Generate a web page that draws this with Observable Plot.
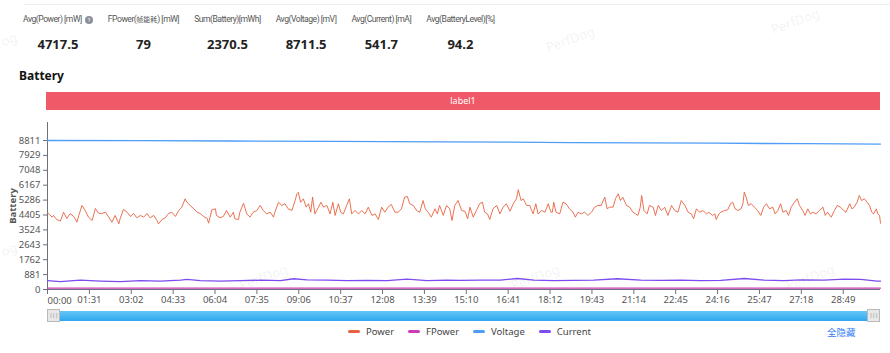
<!DOCTYPE html>
<html><head><meta charset="utf-8">
<script src="https://cdn.jsdelivr.net/npm/d3@7"></script>
<script src="https://cdn.jsdelivr.net/npm/@observablehq/plot@0.6"></script>
<style>
body{margin:0;width:890px;height:353px;overflow:hidden;background:#fff;position:relative;font-family:"Noto Sans","Noto Sans CJK SC",sans-serif;color:#333}
#topline{position:absolute;left:24px;top:4px;width:866px;height:1px;background:#eceef2}
#stats{position:absolute;left:23px;top:12px;display:flex;gap:15px}
.stat{text-align:center}
.stat .lab{font-family:Roboto,"Noto Sans CJK SC",sans-serif;font-size:8.6px;letter-spacing:-0.5px;color:#555;white-space:nowrap;height:14px;line-height:14px}
.stat .lab .cjk{font-family:"Noto Sans CJK SC";font-size:7px;letter-spacing:0}
.stat .val{font-size:13px;font-weight:bold;color:#222;margin-top:10px;line-height:16px}
.help{display:inline-block;width:8px;height:8px;border-radius:50%;background:#8a8f99;color:#fff;font-size:6px;line-height:8px;text-align:center;vertical-align:middle;margin-left:3px;letter-spacing:0}
#title{position:absolute;left:19px;top:67px;font-size:12px;font-weight:bold;color:#111}
#labelbar{position:absolute;left:46px;top:92px;width:834px;height:18px;background:#f05a68;color:#fff;font-size:9px;line-height:18px;text-align:center}
#chart{position:absolute;left:0;top:115px}
#slider{position:absolute;left:47px;top:311px;width:833px;height:10px;background:linear-gradient(#66c6f8,#2ea6ef)}
.handle{position:absolute;top:-2px;width:13px;height:13px;background:#e8e8e8;border:1px solid #b9b9b9;box-sizing:border-box;font-size:6px;line-height:11px;text-align:center;color:#888;letter-spacing:-0.5px}
#legend{position:absolute;left:53px;width:833px;top:325px;display:flex;justify-content:center;gap:14px;font-size:9.5px;color:#444}
.item{display:flex;align-items:center}
.sw{width:12px;height:3px;border-radius:2px;margin-right:6px}
#hideall{position:absolute;left:827px;top:325px;font-size:9.5px;color:#2f7df6}
.wm{position:absolute;color:rgba(120,120,120,0.10);font-size:13px;transform:rotate(-20deg);pointer-events:none}
svg [aria-label="y-axis label"] text{font-weight:bold}
</style></head><body>
<div id="topline"></div>
<div id="stats"></div>
<div id="title">Battery</div>
<div id="labelbar">label1</div>
<div id="chart"></div>
<div id="slider"><div class="handle" style="left:0">|||</div><div class="handle" style="right:0">|||</div></div>
<div id="legend"></div>
<div id="hideall">全隐藏</div>
<script>
const statLabels = ["Avg(Power) [mW]","FPower(帧能耗) [mW]","Sum(Battery)[mWh]","Avg(Voltage) [mV]","Avg(Current) [mA]","Avg(BatteryLevel)[%]"];
const statValues = ["4717.5","79","2370.5","8711.5","541.7","94.2"];

const seriesNames = ["Power","FPower","Voltage","Current"];
const seriesColors = ["#e8623f","#cc3cb8","#4f9df7","#7c4cf0"];

const xTickLabels = ["00:00","01:31","03:02","04:33","06:04","07:35","09:06","10:37","12:08","13:39","15:10","16:41","18:12","19:43","21:14","22:45","24:16","25:47","27:18","28:49"];
const yTickLabels = ["0","881","1762","2643","3524","4405","5286","6167","7048","7929","8811"];
const yTickValues = [0,881.1,1762.2,2643.3,3524.4,4405.5,5286.6,6167.7,7048.8,7929.9,8811];

const powerTime = [0,2,10,13,20,28,35,42,49,57,64,68,75,82,89,97,104,111,118,126,133,140,147,155,158,165,173,180,187,194,202,209,216,223,231,238,241,249,256,263,270,278,285,292,299,303,310,318,325,332,339,347,350,357,365,
367,375,382,389,397,404,407,415,418,426,433,440,447,455,462,469,476,484,491,494,502,509,516,523,531,538,542,545,550,556,562,567,572,576,581,589,594,600,607,614,620,625,632,637,643,650,656,661,668,676,683,690,697,705,712,719,726,
733,740,747,755,762,769,776,782,787,795,802,809,816,821,827,834,842,847,852,860,867,874,879,885,892,900,907,913,918,925,932,939,945,950,956,961,968,976,983,990,997,1005,1012,1019,1023,1029,1034,1041,1048,1055,1061,1066,1074,1081,1088,1094,
1097,1100,1105,1113,1120,1127,1134,1142,1147,1153,1160,1167,1174,1182,1189,1196,1203,1211,1216,1221,1229,1234,1240,1245,1250,1258,1265,1272,1278,1283,1288,1291,1296,1303,1308,1316,1321,1327,1334,1341,1348,1356,1363,1370,1377,1385,1392,1399,1404,1410,1417,1424,1432,1437,1445,1450,1453,1459,
1463,1471,1478,1484,1489,1494,1500,1507,1511,1514,1518,1523,1529,1536,1543,1550,1556,1562,1569,1576,1581,1587,1593,1598,1605,1610,1616,1623,1629,1634,1641,1646,1652,1658,1663,1670,1677,1685,1690,1695,1703,1710,1716,1723,1730,1735,1743,1748,1753,1759,1764,1769,1775,1781,1786,1791,1795,1801,1804,1808,1810];
const powerValue = [4570,4490,4280,4376,4140,4040,4570,4200,4490,4320,3980,4380,4970,4670,4280,4080,4790,4510,4490,4570,4280,3980,4380,3880,4200,4730,4570,4320,4490,4240,4380,4280,4490,4240,4380,4080,3880,4140,4240,4490,4570,4320,4670,4870,5360,5160,4970,4770,4570,4490,4320,4200,3920,4710,4770,
4380,4240,4320,4670,4280,4570,4180,4140,4570,5100,4470,4280,4570,4670,4970,4670,4470,4570,4280,4570,5160,4970,5070,4770,4670,5260,5660,5750,5160,5360,4870,5070,4570,5460,4470,4870,5160,4870,4970,4470,5160,4380,5070,4570,4470,4970,5360,4470,4670,4470,4670,4470,4870,4380,4470,4140,4870,
4570,4870,5030,4570,4570,4770,5460,5500,5070,4970,4670,4570,5260,4770,4570,4280,4770,4470,4970,4380,4970,4770,4080,4970,5260,4670,4630,4180,4870,4280,4670,5070,5160,4570,4470,4140,4770,4970,4470,4870,5070,4630,5070,5360,5900,5260,5360,4970,4970,4470,5070,4470,4670,4570,5070,4570,
4570,5160,4570,4470,5160,5070,4770,4570,4280,4570,4470,4570,4380,4570,4870,4970,4970,5460,4770,4870,4870,5360,5660,5260,5460,4970,4870,4570,4470,4380,4870,5560,4670,4470,4970,4870,4380,4970,4670,4870,4380,4970,4670,4570,5260,4970,4570,4470,4180,4770,4570,4670,4470,4570,4380,4470,4140,4470,
4570,4670,4710,5070,5160,4770,4670,4770,5070,5750,5460,4970,5070,4870,4670,4380,4870,5070,4770,4870,4470,4670,5070,4570,4670,4380,4870,5160,5360,4970,4670,4380,4770,4470,4570,4470,4670,4870,4380,4570,4280,4670,4970,4870,4670,4570,5070,4770,4870,5160,5560,5260,5360,5160,4970,4570,4470,4770,4470,4380,3920];

const currentTime = [0,28,71,115,158,202,245,289,303,332,376,419,463,506,535,564,608,651,694,738,781,825,868,897,941,984,1021,1057,1100,1144,1187,1238,1289,1332,1376,1419,1463,1514,1557,1600,1637,1687,1731,1767,1803,1810];
const currentValue = [520,460,555,500,460,520,500,555,595,520,500,520,555,520,635,575,555,520,535,520,615,520,555,535,555,555,650,555,520,535,555,635,555,535,555,520,535,650,555,520,575,555,615,595,500,490];

const fpowerTime = [0,300,600,900,1200,1500,1810];
const fpowerValue = [76,80,82,79,80,79,78];

const voltageTime = [0,200,400,620,860,1140,1450,1650,1810];
const voltageValue = [8811,8800,8780,8760,8730,8690,8650,8620,8600];

// build tables
const rows = (name, T, V) => T.map((t, i) => ({series: name, t, v: V[i]}));
const power = rows("Power", powerTime, powerValue);
const fpower = rows("FPower", fpowerTime, fpowerValue);
const voltage = rows("Voltage", voltageTime, voltageValue);
const current = rows("Current", currentTime, currentValue);
const colorOf = Object.fromEntries(seriesNames.map((n, i) => [n, seriesColors[i]]));

const xTickSeconds = xTickLabels.map(s => { const [m, sec] = s.split(":").map(Number); return m * 60 + sec; });
const xMax = powerTime[powerTime.length - 1];
const yTop = 9875;

// stats
const stats = document.getElementById("stats");
statLabels.forEach((l, i) => {
  const d = document.createElement("div");
  d.className = "stat";
  const html = l.replace(/([\u4e00-\u9fff]+)/g, '<span class="cjk">$1</span>');
  d.innerHTML = `<div class="lab">${html}${i === 0 ? '<span class="help">?</span>' : ''}</div><div class="val">${statValues[i]}</div>`;
  stats.appendChild(d);
});

// legend
const legend = document.getElementById("legend");
seriesNames.forEach((n, i) => {
  const d = document.createElement("div");
  d.className = "item";
  d.innerHTML = `<span class="sw" style="background:${seriesColors[i]}"></span><span>${n}</span>`;
  legend.appendChild(d);
});

// watermarks
[[1,30,"og"],[545,30,"PerfDog"],[770,12,"PerfDog"],[1,240,"og"],[238,268,"PerfDog"],[510,268,"PerfDog"],[785,268,"PerfDog"]].forEach(([l,t,s]) => {
  const w = document.createElement("div");
  w.className = "wm"; w.style.left = l + "px"; w.style.top = t + "px"; w.textContent = s;
  document.body.appendChild(w);
});

const chart = Plot.plot({
  width: 890,
  height: 195,
  marginLeft: 47,
  marginRight: 10,
  marginTop: 7,
  marginBottom: 21,
  style: {fontFamily: '"Noto Sans", sans-serif', fontSize: "9.5px", color: "#555", background: "transparent", overflow: "visible"},
  x: {domain: [0, xMax]},
  y: {domain: [0, yTop]},
  marks: [
    Plot.axisY({ticks: yTickValues, tickFormat: (d, i) => yTickLabels[i], tickSize: 4, tickPadding: 3, label: "Battery", labelAnchor: "center", labelArrow: "none", labelOffset: 38, stroke: "#6e7079", color: "#555"}),
    Plot.axisX({ticks: xTickSeconds, tickFormat: (d, i) => i === 0 ? "" : xTickLabels[i], tickSize: 5, tickPadding: 2, label: null, stroke: "#6e7079", color: "#555"}),
    Plot.text([0], {x: d => d, frameAnchor: "bottom", text: () => xTickLabels[0], textAnchor: "start", dy: 14, fill: "#555", fontSize: 9.5}),
    Plot.ruleX([0], {y1: 0, y2: yTop, stroke: "#6e7079"}),
    Plot.ruleY([0], {stroke: "#6e7079"}),
    Plot.lineY(voltage, {x: "t", y: "v", stroke: colorOf.Voltage, strokeWidth: 1.3}),
    Plot.lineY(power, {x: "t", y: "v", stroke: colorOf.Power, strokeWidth: 0.9}),
    Plot.lineY(current, {x: "t", y: "v", stroke: colorOf.Current, strokeWidth: 1.3}),
    Plot.lineY(fpower, {x: "t", y: "v", stroke: colorOf.FPower, strokeWidth: 1.2})
  ]
});
document.getElementById("chart").appendChild(chart);
</script>
</body></html>
